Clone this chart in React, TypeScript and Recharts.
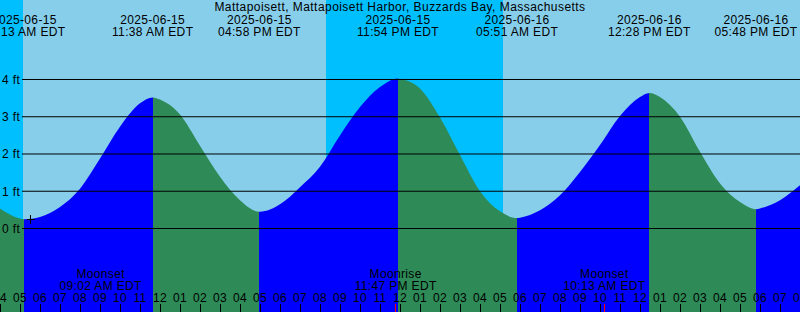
import { ComposedChart, Area, XAxis, YAxis, ReferenceArea, ReferenceLine, ReferenceDot } from 'recharts';

const TITLE = 'Mattapoisett, Mattapoisett Harbor, Buzzards Bay, Massachusetts';

// hours are counted from 2025-06-15 04:00 EDT, heights in feet
const HOURLY_HEIGHTS = [
  0.54, 0.27, 0.31, 0.58, 1.07, 1.88, 2.73, 3.36, 3.46, 3.06,
  2.22, 1.39, 0.76, 0.45, 0.65, 1.11, 1.66, 2.5, 3.26, 3.8,
  4.02, 3.76, 2.98, 1.97, 1.0, 0.46, 0.29, 0.49, 0.89, 1.52,
  2.24, 3.02, 3.53, 3.53, 3.0, 2.06, 1.21, 0.71, 0.54, 0.76,
  1.16,
];

const EXTREME_HOURS = [1.217, 7.633, 12.967, 19.9, 25.85, 32.467, 37.8];
const EXTREME_HEIGHTS = [0.25, 3.52, 0.45, 4.03, 0.28, 3.64, 0.52];
const EXTREME_DATES = ['2025-06-15', '2025-06-15', '2025-06-15', '2025-06-15', '2025-06-16', '2025-06-16', '2025-06-16'];
const EXTREME_TIMES = ['05:13 AM EDT', '11:38 AM EDT', '04:58 PM EDT', '11:54 PM EDT', '05:51 AM EDT', '12:28 PM EDT', '05:48 PM EDT'];

const MOON_HOURS = [5.033, 19.783, 30.217];
const MOON_EVENTS = ['Moonset', 'Moonrise', 'Moonset'];
const MOON_TIMES = ['09:02 AM EDT', '11:47 PM EDT', '10:13 AM EDT'];

const NIGHT_SPANS = [[0, 1.15], [16.3, 25.15]];
const DAY_SPANS = [[1.15, 16.3], [25.15, 40]];

const FEET_TICKS = [0, 1, 2, 3, 4];
const HOUR_TICKS = Array.from({ length: 41 }, (_, i) => i);

const NOW_HOUR = 1.53;
const NOW_HEIGHT = 0.23;

const W = 800;
const H = 312;
const Y_MIN = -2.2416;
const Y_MAX = 6.1342;
const FONT = '"Liberation Sans", Arial, sans-serif';
const SPACING = 0.35;

const RISE = '#0000ff';
const FALL = '#2e8b57';
const DAY = '#87ceeb';
const NIGHT = '#00bfff';

const data = [
  ...HOURLY_HEIGHTS.map((h, i) => ({ t: i, h })),
  ...EXTREME_HOURS.map((t, i) => ({ t, h: EXTREME_HEIGHTS[i] })),
].sort((a, b) => a.t - b.t);

// falling before the first low, then alternating
const stops: { off: number; color: string }[] = [{ off: 0, color: FALL }];
EXTREME_HOURS.forEach((t, i) => {
  const off = t / 40;
  stops.push({ off, color: i % 2 === 0 ? FALL : RISE });
  stops.push({ off, color: i % 2 === 0 ? RISE : FALL });
});
stops.push({ off: 1, color: EXTREME_HOURS.length % 2 === 0 ? FALL : RISE });

const hourLabel = (i: number) => String(((4 + i + 11) % 12) + 1).padStart(2, '0');

const Txt = ({ x, y, anchor = 'middle', children }: any) => (
  <text x={x} y={y} textAnchor={anchor} fontSize={12} fontFamily={FONT} fill="#000" letterSpacing={SPACING}>
    {children}
  </text>
);

const HourTick = ({ x, payload }: any) => (
  <g>
    <line x1={x} x2={x} y1={H - 8} y2={H} stroke="#000" shapeRendering="crispEdges" />
    <Txt x={x} y={H - 10.5}>{hourLabel(payload.value)}</Txt>
  </g>
);

const FeetTick = ({ y, payload }: any) => (
  <Txt x={2} y={y + 4.5} anchor="start">{`${payload.value} ft`}</Txt>
);

const ExtremeLabel = ({ viewBox, date, time }: any) => (
  <g>
    <Txt x={viewBox.x} y={23.5}>{date}</Txt>
    <Txt x={viewBox.x} y={35.5}>{time}</Txt>
  </g>
);

const MoonLabel = ({ viewBox, event, time }: any) => (
  <g>
    <Txt x={viewBox.x} y={277.5}>{event}</Txt>
    <Txt x={viewBox.x} y={289.5}>{time}</Txt>
    <line x1={viewBox.x} x2={viewBox.x} y1={H - 8} y2={H} stroke="#ff0000" shapeRendering="crispEdges" />
  </g>
);

const PlusMark = ({ cx, cy }: any) => (
  <g stroke="#000" shapeRendering="crispEdges">
    <line x1={cx - 4} x2={cx + 4} y1={cy} y2={cy} />
    <line x1={cx} x2={cx} y1={cy - 4.5} y2={cy + 4.5} />
  </g>
);

export default function App() {
  return (
    <div style={{ position: 'relative', width: W, height: H }}>
      <style>{'body{margin:0}'}</style>
      <ComposedChart width={W} height={H} data={data} margin={{ top: 0, right: 0, bottom: 0, left: 0 }}>
        <defs>
          <linearGradient id="tideFill" gradientUnits="userSpaceOnUse" x1={0} x2={W} y1={0} y2={0}>
            {stops.map((s, i) => (
              <stop key={i} offset={s.off} stopColor={s.color} />
            ))}
          </linearGradient>
        </defs>
        <XAxis
          type="number"
          dataKey="t"
          domain={[0, 40]}
          ticks={HOUR_TICKS}
          interval={0}
          mirror
          axisLine={false}
          tickLine={false}
          tick={<HourTick />}
          allowDataOverflow
        />
        <YAxis
          type="number"
          domain={[Y_MIN, Y_MAX]}
          ticks={FEET_TICKS}
          mirror
          axisLine={false}
          tickLine={false}
          tick={<FeetTick />}
          allowDataOverflow
        />
        {NIGHT_SPANS.map(([a, b], i) => (
          <ReferenceArea key={`n${i}`} x1={a} x2={b} fill={NIGHT} fillOpacity={1} stroke="none" />
        ))}
        {DAY_SPANS.map(([a, b], i) => (
          <ReferenceArea key={`d${i}`} x1={a} x2={b} fill={DAY} fillOpacity={1} stroke="none" />
        ))}
        <Area
          type="monotone"
          dataKey="h"
          stroke="none"
          fill="url(#tideFill)"
          fillOpacity={1}
          baseValue={Y_MIN}
          dot={false}
          activeDot={false}
          isAnimationActive={false}
        />
        {FEET_TICKS.map((v) => (
          <ReferenceLine
            key={`f${v}`}
            segment={[{ x: 1.1, y: v }, { x: 40, y: v }]}
            stroke="#000"
            strokeWidth={1}
          />
        ))}
        {EXTREME_HOURS.map((t, i) => (
          <ReferenceLine
            key={`e${i}`}
            x={t}
            stroke="none"
            label={<ExtremeLabel date={EXTREME_DATES[i]} time={EXTREME_TIMES[i]} />}
          />
        ))}
        {MOON_HOURS.map((t, i) => (
          <ReferenceLine
            key={`m${i}`}
            x={t}
            stroke="none"
            label={<MoonLabel event={MOON_EVENTS[i]} time={MOON_TIMES[i]} />}
          />
        ))}
        <ReferenceDot x={NOW_HOUR} y={NOW_HEIGHT} shape={<PlusMark />} />
      </ComposedChart>
      <div
        style={{
          position: 'absolute',
          top: 0,
          left: 0,
          width: W,
          textAlign: 'center',
          fontFamily: FONT,
          fontSize: 12,
          lineHeight: '14px',
          letterSpacing: 0.45,
          color: '#000',
        }}
      >
        {TITLE}
      </div>
    </div>
  );
}
